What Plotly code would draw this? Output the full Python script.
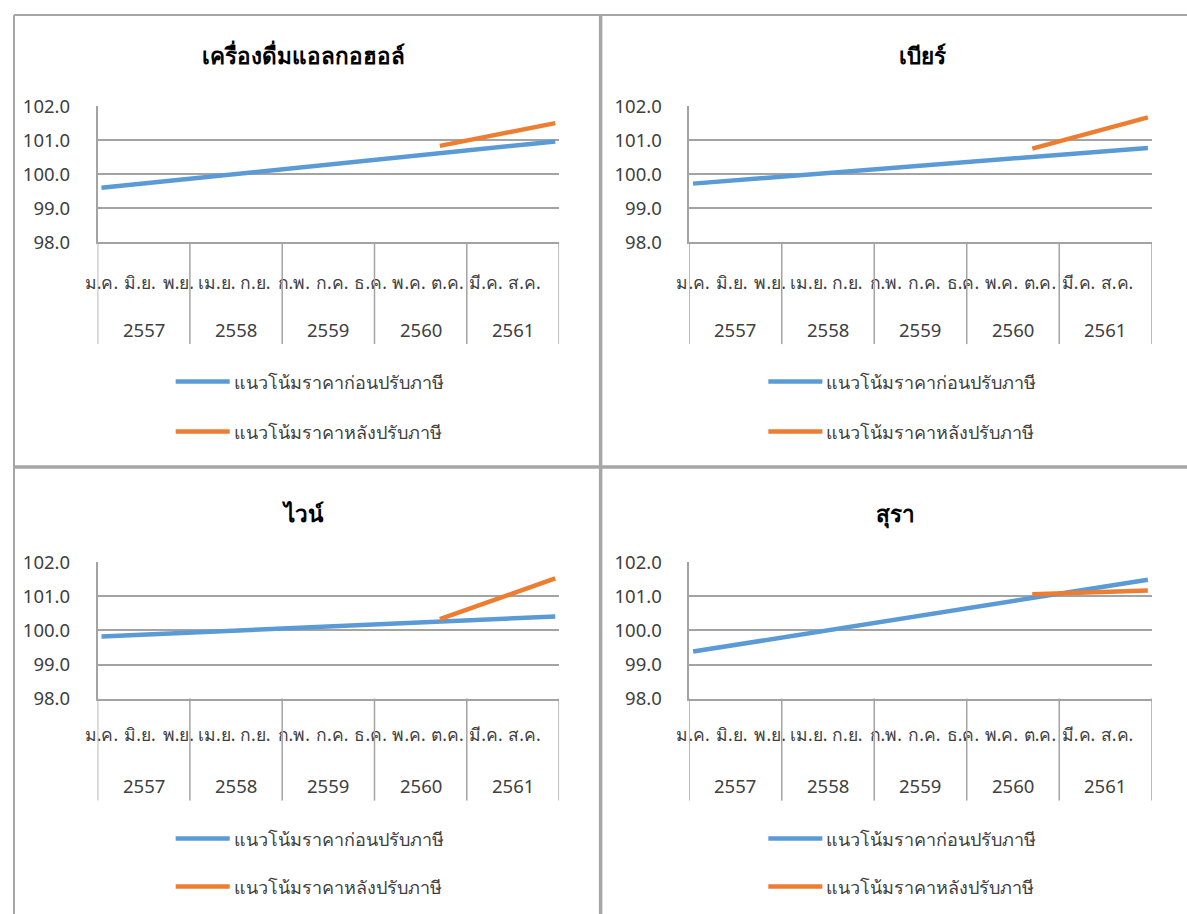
import plotly.graph_objects as go

# ---- data -------------------------------------------------------------
years = ["2557", "2558", "2559", "2560", "2561"]
month_ticks = [0, 5, 10, 15, 20, 25, 30, 35, 40, 45, 50, 55]
month_labels = ["ม.ค.", "มิ.ย.", "พ.ย.", "เม.ย.", "ก.ย.", "ก.พ.",
                "ก.ค.", "ธ.ค.", "พ.ค.", "ต.ค.", "มี.ค.", "ส.ค."]

titles = ["เครื่องดื่มแอลกอฮอล์", "เบียร์", "ไวน์", "สุรา"]
name_before = "แนวโน้มราคาก่อนปรับภาษี"
name_after = "แนวโน้มราคาหลังปรับภาษี"

# month index (0 = ม.ค. 2557 ... 59 = ธ.ค. 2561)
before_x = [0, 12, 24, 36, 48, 59]
after_x = [44, 48, 59]

alcohol_before = [99.60, 99.88, 100.15, 100.43, 100.71, 100.96]
alcohol_after = [100.83, 101.01, 101.50]
beer_before = [99.72, 99.93, 100.15, 100.36, 100.57, 100.77]
beer_after = [100.75, 100.99, 101.67]
wine_before = [99.82, 99.94, 100.06, 100.18, 100.30, 100.41]
wine_after = [100.33, 100.65, 101.53]
spirits_before = [99.38, 99.81, 100.24, 100.67, 101.10, 101.49]
spirits_after = [101.06, 101.09, 101.17]

series_before = [alcohol_before, beer_before, wine_before, spirits_before]
series_after = [alcohol_after, beer_after, wine_after, spirits_after]

# ---- style ------------------------------------------------------------
W, H = 1190, 926
# layout positions below are given in screen pixels; these map them
# onto the figure canvas (page margin and viewport scaling)
SX, SY = 0.988, 0.973
OX, OY = 13.5, 13.4
BLUE = "#5B9BD5"
ORANGE = "#ED7D31"
GRID = "#A3A3A3"
TEXT = "#404040"
FONT = "Noto Sans, DejaVu Sans, sans-serif"


def px(x):
    """screen pixel x -> paper fraction"""
    return max((x - OX) / SX, 1.0) / W


def py(y):
    """screen pixel y (from top) -> paper fraction"""
    return 1 - max((y - OY) / SY, 1.0) / H


# plot-area pixel boxes: (left, right, top, bottom)
boxes = [(98, 559, 105.5, 241.5), (689, 1151, 105.5, 241.5),
         (98, 559, 561.7, 698), (689, 1151, 561.7, 698)]
month_standoff = [24, 24, 20, 20]
title_pos = [(304, 55), (922, 55), (303, 513), (895, 513)]
legend_x = [(176, 230), (768, 822), (176, 230), (768, 822)]
legend_y = [(381, 431), (381, 431), (838, 886), (838, 886)]

fig = go.Figure()
shapes = []
annotations = []

for k in range(4):
    xa = "x" if k == 0 else f"x{k + 1}"
    ya = "y" if k == 0 else f"y{k + 1}"
    l, r, t, b = boxes[k]

    fig.add_trace(go.Scatter(x=before_x, y=series_before[k], mode="lines",
                             name=name_before, showlegend=False,
                             line=dict(color=BLUE, width=4.5),
                             xaxis=xa, yaxis=ya))
    fig.add_trace(go.Scatter(x=after_x, y=series_after[k], mode="lines",
                             name=name_after, showlegend=False,
                             line=dict(color=ORANGE, width=4.5),
                             xaxis=xa, yaxis=ya))

    xkey = "xaxis" if k == 0 else f"xaxis{k + 1}"
    ykey = "yaxis" if k == 0 else f"yaxis{k + 1}"
    fig.layout[xkey] = dict(
        domain=[px(l), px(r)], anchor=ya, range=[-0.5, 59.5],
        tickmode="array", tickvals=month_ticks, ticktext=month_labels,
        showgrid=False, zeroline=False, showline=True, linecolor=GRID,
        linewidth=1.5, ticks="", ticklabelstandoff=month_standoff[k],
        tickfont=dict(family=FONT, size=17.5, color=TEXT), fixedrange=True)
    fig.layout[ykey] = dict(
        domain=[py(b), py(t)], anchor=xa, range=[98, 102], dtick=1,
        tickformat=".1f", showgrid=True, gridcolor=GRID, gridwidth=1.5,
        zeroline=False, showline=True, linecolor=GRID, linewidth=1.5,
        ticks="", ticklabelstandoff=22,
        tickfont=dict(family=FONT, size=18.5, color=TEXT), fixedrange=True)

    # year dividers below the category axis
    for j in range(len(years) + 1):
        shapes.append(dict(type="line", xref=xa, yref="paper",
                           x0=j * 12 - 0.5, x1=j * 12 - 0.5,
                           y0=py(b), y1=py(b + 102),
                           line=dict(color=GRID, width=1.5)))
    for j, yr in enumerate(years):
        annotations.append(dict(x=j * 12 + 5.5, y=py(b + 87), xref=xa,
                                yref="paper", text=yr, showarrow=False,
                                xanchor="center", yanchor="middle",
                                font=dict(family=FONT, size=18.5, color=TEXT)))

    # title
    tx, ty = title_pos[k]
    annotations.append(dict(x=px(tx), y=py(ty), xref="paper", yref="paper",
                            text=f"<b>{titles[k]}</b>", showarrow=False,
                            xanchor="center", yanchor="middle",
                            font=dict(family=FONT, size=22.5, color="#000000")))

    # legend
    lx0, lx1 = legend_x[k]
    for name, color, yy in ((name_before, BLUE, legend_y[k][0]),
                            (name_after, ORANGE, legend_y[k][1])):
        shapes.append(dict(type="line", xref="paper", yref="paper",
                           x0=px(lx0), x1=px(lx1), y0=py(yy), y1=py(yy),
                           line=dict(color=color, width=4.5)))
        annotations.append(dict(x=px(lx1 + 2), y=py(yy), xref="paper",
                                yref="paper", text=name, showarrow=False,
                                xanchor="left", yanchor="middle",
                                font=dict(family=FONT, size=18, color=TEXT)))

# panel borders
BORDER = "#A6A6A6"
for x0, y0, x1, y1, w in ((10, 12, 10, 940, 2), (10, 12, 1200, 12, 2),
                          (600.5, 12, 600.5, 940, 3.5),
                          (10, 466.5, 1200, 466.5, 3.5)):
    shapes.append(dict(type="line", xref="paper", yref="paper",
                       x0=px(x0), x1=min(px(x1), 1), y0=py(y0),
                       y1=max(py(y1), 0),
                       line=dict(color=BORDER, width=w)))

fig.update_layout(width=W, height=H, margin=dict(l=0, r=0, t=0, b=0),
                  paper_bgcolor="white", plot_bgcolor="white",
                  shapes=shapes, annotations=annotations, showlegend=False)

fig.write_html("out.html")
